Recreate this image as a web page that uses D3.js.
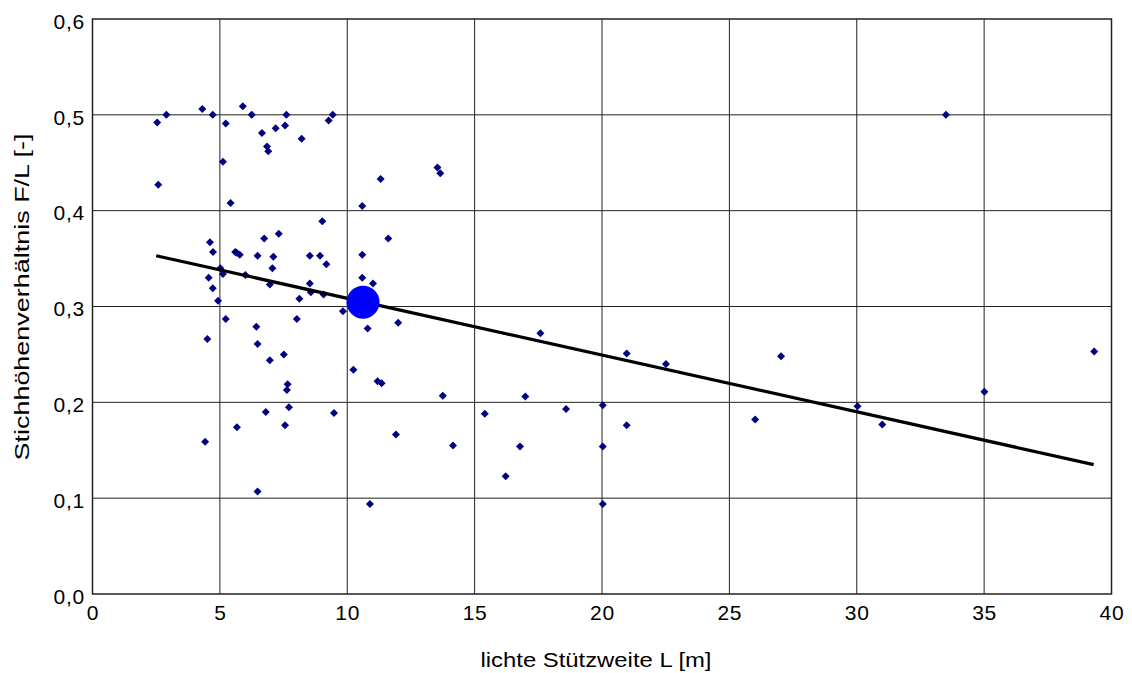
<!DOCTYPE html>
<html>
<head>
<meta charset="utf-8">
<script src="https://cdn.jsdelivr.net/npm/d3@7"></script>
<style>
  body { margin: 0; background: #fff; }
  svg { display: block; font-family: "Liberation Sans", Arial, sans-serif; }
</style>
</head>
<body>
<svg width="1132" height="673"></svg>
<script>
// lichte Stützweite L [m]
const spans = [
  2.54, 2.90, 2.58, 4.31, 4.72, 5.23, 5.90, 6.25, 7.61, 6.65,
  7.19, 7.56, 6.85, 6.90, 8.21, 9.27, 9.43, 5.12, 5.42, 11.31,
  10.59, 9.02, 4.61, 4.73, 11.61, 6.74, 7.31, 5.60, 5.66, 5.78,
  6.48, 7.10, 8.53, 8.93, 10.59, 9.18, 7.06, 5.02, 5.12, 6.00,
  4.56, 6.96, 4.72, 8.53, 8.57, 9.07, 10.59, 11.01, 4.93, 8.12,
  9.83, 5.23, 8.02, 10.80, 12.00, 6.43, 4.51, 6.48, 6.96, 7.51,
  10.24, 11.19, 11.35, 7.66, 7.63, 7.71, 6.80, 9.48, 5.67, 7.56,
  11.91, 4.42, 6.48, 10.89, 13.54, 13.65, 17.58, 13.75, 16.99, 15.40,
  18.59, 20.03, 20.97, 20.97, 14.15, 16.78, 20.03, 16.22, 20.03, 22.51,
  27.03, 39.32, 35.01, 26.01, 30.03, 31.00, 33.50
];
// Stichhöhenverhältnis F/L [-]
const ratios = [
  0.492, 0.500, 0.427, 0.506, 0.500, 0.491, 0.509, 0.500, 0.500, 0.481,
  0.486, 0.489, 0.467, 0.462, 0.475, 0.494, 0.500, 0.451, 0.408, 0.433,
  0.405, 0.389, 0.367, 0.357, 0.371, 0.371, 0.376, 0.357, 0.356, 0.354,
  0.353, 0.352, 0.353, 0.353, 0.354, 0.344, 0.340, 0.340, 0.334, 0.333,
  0.330, 0.323, 0.319, 0.324, 0.315, 0.3125, 0.330, 0.324, 0.306, 0.308,
  0.295, 0.287, 0.287, 0.277, 0.283, 0.279, 0.266, 0.261, 0.244, 0.250,
  0.234, 0.222, 0.220, 0.219, 0.213, 0.195, 0.190, 0.189, 0.174, 0.176,
  0.1665, 0.159, 0.107, 0.094, 0.445, 0.439, 0.272, 0.207, 0.206, 0.188,
  0.193, 0.197, 0.251, 0.176, 0.155, 0.154, 0.154, 0.123, 0.094, 0.240,
  0.248, 0.253, 0.211, 0.182, 0.196, 0.177, 0.500
];
// trend line, read at its two ends
const trendX = [2.5, 39.3];
const trendY = [0.353, 0.135];
// mean point (big blue dot)
const meanX = [10.62];
const meanY = [0.3045];

const xTicks = [0, 5, 10, 15, 20, 25, 30, 35, 40];
const yTicks = [0, 0.1, 0.2, 0.3, 0.4, 0.5, 0.6];

const svg = d3.select('svg');
const width = +svg.attr('width');
const height = +svg.attr('height');
const margin = { top: 19, right: 20.5, bottom: 79, left: 92.5 };
const innerW = width - margin.left - margin.right;
const innerH = height - margin.top - margin.bottom;
const fontFam = '"Liberation Sans", Arial, sans-serif';

const deFormat = d3.formatLocale({ decimal: ',', thousands: '.', grouping: [3], currency: ['', ' €'] }).format('.1f');

const xScale = d3.scaleLinear().domain([0, 40]).range([0, innerW]);
const yScale = d3.scaleLinear().domain([0, 0.6]).range([innerH, 0]);

const g = svg.append('g').attr('transform', `translate(${margin.left},${margin.top})`);

// grid
g.append('g').selectAll('line').data(xTicks.slice(1, -1)).enter().append('line')
  .attr('x1', d => xScale(d)).attr('x2', d => xScale(d))
  .attr('y1', 0).attr('y2', innerH)
  .attr('stroke', '#222').attr('stroke-width', 1);
g.append('g').selectAll('line').data(yTicks.slice(1, -1)).enter().append('line')
  .attr('x1', 0).attr('x2', innerW)
  .attr('y1', d => yScale(d)).attr('y2', d => yScale(d))
  .attr('stroke', '#222').attr('stroke-width', 1);

// frame
g.append('rect').attr('width', innerW).attr('height', innerH)
  .attr('fill', 'none').attr('stroke', '#222').attr('stroke-width', 1.5);

// axes (labels only, the frame is the axis line)
const xAxis = d3.axisBottom(xScale).tickValues(xTicks).tickSize(0).tickPadding(11);
const xAxisG = g.append('g').attr('transform', `translate(0,${innerH})`).call(xAxis);
const yAxis = d3.axisLeft(yScale).tickValues(yTicks).tickFormat(deFormat).tickSize(0).tickPadding(7.5);
const yAxisG = g.append('g').call(yAxis);
[xAxisG, yAxisG].forEach(a => {
  a.select('.domain').remove();
  a.selectAll('text').attr('font-family', fontFam)
    .attr('font-size', 21).attr('letter-spacing', 0.8).attr('fill', '#000');
});
yAxisG.selectAll('text').attr('dy', '0.44em');

// points
const diamond = d3.symbol(d3.symbolSquare, 32);
g.append('g').selectAll('path').data(spans.map((s, i) => [s, ratios[i]])).enter().append('path')
  .attr('d', diamond)
  .attr('transform', d => `translate(${xScale(d[0])},${yScale(d[1])}) rotate(45)`)
  .attr('fill', '#000080');

// trend
const line = d3.line().x(d => xScale(d[0])).y(d => yScale(d[1]));
g.append('path').datum(trendX.map((x, i) => [x, trendY[i]]))
  .attr('d', line).attr('fill', 'none').attr('stroke', '#000').attr('stroke-width', 3.2);

// mean point
g.append('g').selectAll('circle').data(meanX.map((x, i) => [x, meanY[i]])).enter().append('circle')
  .attr('cx', d => xScale(d[0])).attr('cy', d => yScale(d[1])).attr('r', 16.5)
  .attr('fill', '#0000ff');

// axis titles
svg.append('text').attr('x', 596).attr('y', 667)
  .attr('text-anchor', 'middle').attr('font-size', 20)
  .attr('textLength', 231).attr('lengthAdjust', 'spacingAndGlyphs')
  .text('lichte Stützweite L [m]');
svg.append('text').attr('transform', 'translate(29,297) rotate(-90)')
  .attr('text-anchor', 'middle').attr('font-size', 20)
  .attr('textLength', 327).attr('lengthAdjust', 'spacingAndGlyphs')
  .text('Stichhöhenverhältnis F/L [-]');
</script>
</body>
</html>
